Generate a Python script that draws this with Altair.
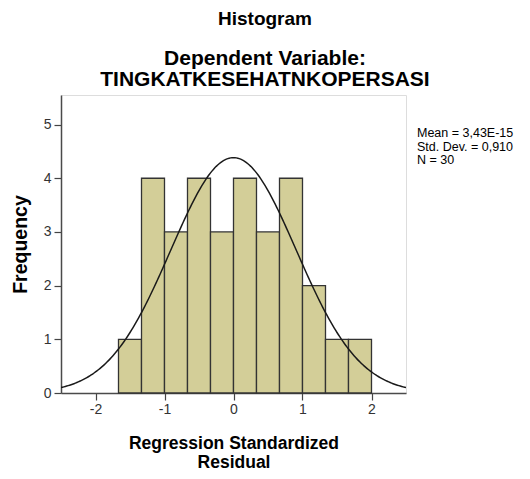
import altair as alt
import numpy as np
import pandas as pd

# ---- data ----
bin_starts = [-1.6667, -1.3333, -1.0, -0.6667, -0.3333, 0.0, 0.3333, 0.6667, 1.0, 1.3333, 1.6667]
bin_width = 0.3333
counts = [1, 4, 3, 4, 3, 4, 3, 4, 2, 1, 1]
mean_val = 3.43e-15
std_dev = 0.910
n_obs = 30
stats_lines = ["Mean = 3,43E-15", "Std. Dev. = 0,910", "N = 30"]
x_ticks = [-2, -1, 0, 1, 2]
y_ticks = [0, 1, 2, 3, 4, 5]

bars_df = pd.DataFrame({
    "start": bin_starts,
    "end": [s + bin_width for s in bin_starts],
    "count": counts,
    "base": [0] * len(counts),
})

# normal curve implied by the reported mean / std. dev. / N
xs = np.linspace(-2.5, 2.5, 241)
ys = n_obs * bin_width / (std_dev * np.sqrt(2 * np.pi)) * np.exp(-0.5 * ((xs - mean_val) / std_dev) ** 2)
curve_df = pd.DataFrame({"x": xs, "y": ys})

FONT = "Liberation Sans"

x_scale = alt.Scale(domain=[-2.5, 2.5], nice=False, zero=False)
y_scale = alt.Scale(domain=[0, 5.55], nice=False)

x_axis = alt.Axis(
    values=x_ticks, labelExpr="'' + datum.value", grid=False,
    title=["Regression Standardized", "Residual"],
    titleFont=FONT, titleFontSize=17.5, titleFontWeight="bold", titleColor="#000",
    titleLineHeight=19.5, titleBaseline="alphabetic", titleAlign="center",
    titleX=172.5, titleY=55,
    labelFont=FONT, labelFontSize=14, labelColor="#333", labelPadding=2,
    tickSize=7, tickColor="#444", tickWidth=1.2,
    domainColor="#4a4a4a", domainWidth=1.5,
)
y_axis = alt.Axis(
    values=y_ticks, labelExpr="'' + datum.value", grid=False,
    title="Frequency",
    titleFont=FONT, titleFontSize=19.5, titleFontWeight="bold", titleColor="#000",
    titleAngle=270, titleBaseline="middle", titleAlign="center",
    titleX=-41, titleY=149,
    labelFont=FONT, labelFontSize=14, labelColor="#333", labelPadding=3,
    tickSize=7, tickColor="#444", tickWidth=1.2,
    domainColor="#4a4a4a", domainWidth=1.5,
)

bars = alt.Chart(bars_df).mark_rect(
    fill="#d3ce98", stroke="#333333", strokeWidth=1.3
).encode(
    x=alt.X("start:Q", scale=x_scale, axis=x_axis),
    x2="end:Q",
    y=alt.Y("count:Q", scale=y_scale, axis=y_axis),
    y2="base:Q",
)

curve = alt.Chart(curve_df).mark_line(
    color="#1a1a1a", strokeWidth=1.5, clip=True
).encode(
    x=alt.X("x:Q", scale=x_scale, axis=x_axis),
    y=alt.Y("y:Q", scale=y_scale, axis=y_axis),
)

stats = alt.Chart(pd.DataFrame({"t": ["\n".join(stats_lines)]})).mark_text(
    align="left", baseline="alphabetic", lineBreak="\n",
    font=FONT, fontSize=12.5, lineHeight=13.5, color="#000",
).encode(
    x=alt.value(356), y=alt.value(42), text="t:N"
)

chart = alt.layer(bars, curve, stats).properties(
    width=345, height=298,
    autosize=alt.AutoSizeParams(type="none"),
    padding={"left": 53, "top": 87, "right": 116, "bottom": 78},
    title=alt.TitleParams(
        text="Histogram",
        subtitle=["Dependent Variable:", "TINGKATKESEHATNKOPERSASI"],
        anchor="middle", frame="group", dx=31.5, offset=5,
        font=FONT, fontSize=19, fontWeight="bold", color="#000",
        subtitleFont=FONT, subtitleFontSize=21, subtitleFontWeight="bold",
        subtitleColor="#000", subtitleLineHeight=21, subtitlePadding=19,
    ),
).configure_view(
    fill="#f0f0f0", stroke="#8c8c8c", strokeWidth=2
).configure(background="#ffffff")

chart.save("out.html", embed_options={"renderer": "svg", "actions": False})
